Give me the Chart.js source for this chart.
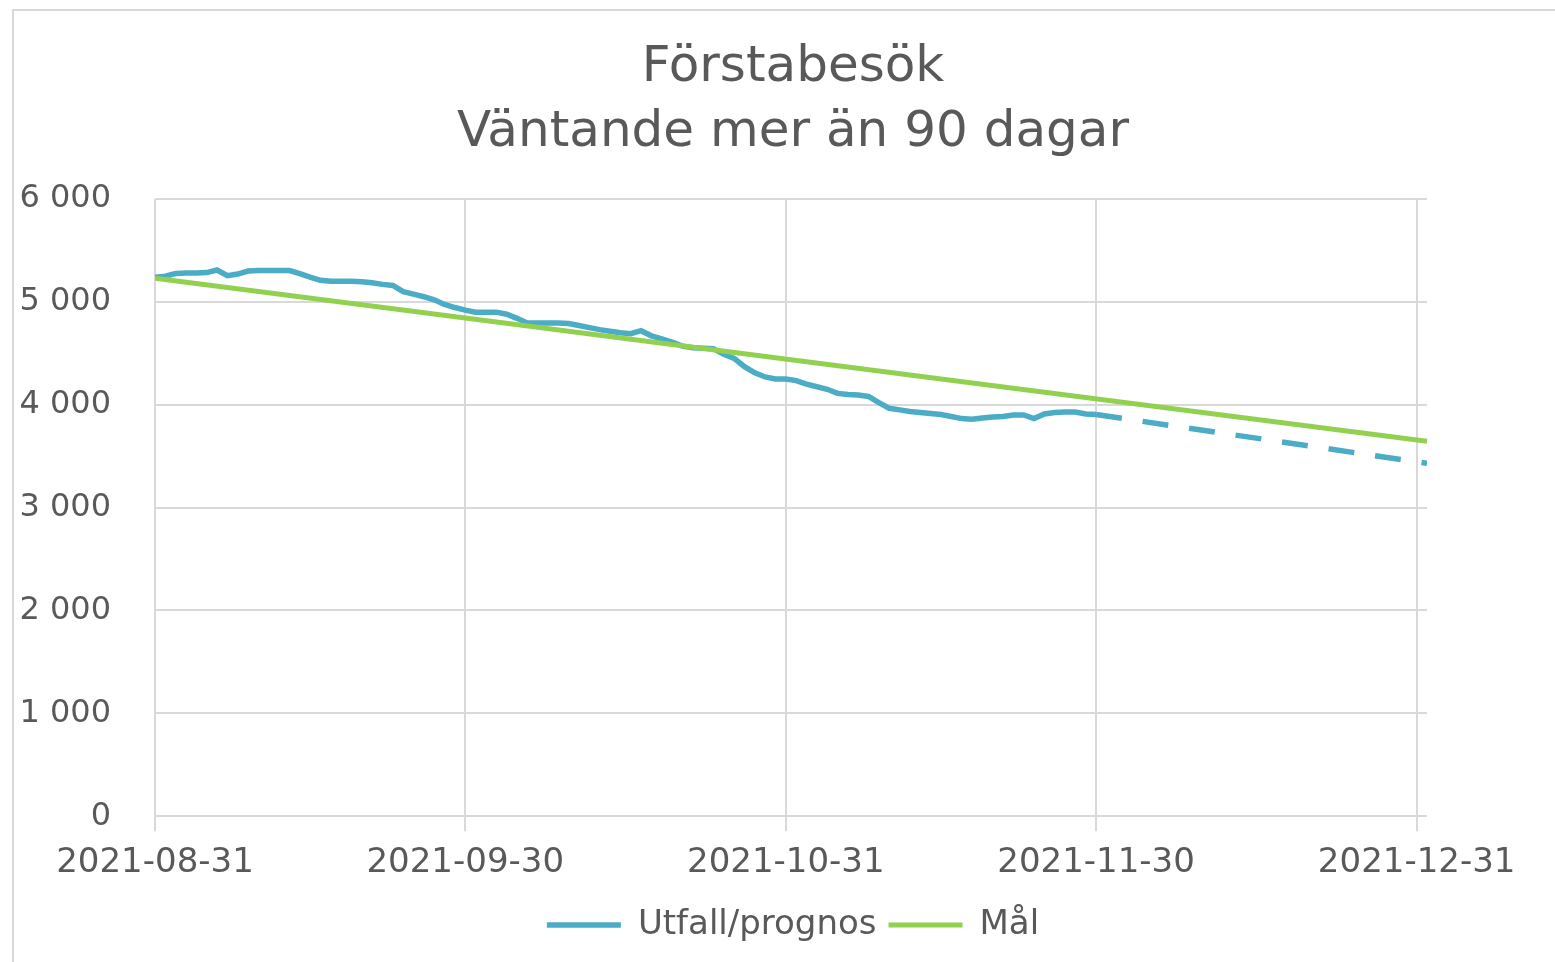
<!DOCTYPE html>
<html lang="sv">
<head>
<meta charset="utf-8">
<title>Förstabesök – Väntande mer än 90 dagar</title>
<script src="https://cdn.jsdelivr.net/npm/chart.js@4/dist/chart.umd.min.js"></script>
<style>
  html, body { margin: 0; padding: 0; background: #fff; overflow: hidden; width: 1555px; height: 962px; }
  .frame { position: absolute; left: 12px; top: 9px; width: 1620px; height: 1020px; border: 2px solid #d9d9d9; }
  #chart { position: absolute; left: 15px; top: 0; }
</style>
</head>
<body>
<div class="frame"></div>
<canvas id="chart" width="1556" height="962"></canvas>
<script>
// x = days since 2021-08-31
const tickDays   = [0, 30, 61, 91, 122];
const tickLabels = ['2021-08-31', '2021-09-30', '2021-10-31', '2021-11-30', '2021-12-31'];

// Utfall, one value per day from 2021-08-31 to 2021-11-30
const actualValues = [
  5240, 5250, 5275, 5280, 5280, 5285, 5310, 5255, 5270, 5300,
  5305, 5305, 5305, 5305, 5275, 5240, 5210, 5200, 5200, 5200,
  5195, 5185, 5170, 5160, 5100, 5075, 5050, 5020, 4975, 4945,
  4920, 4900, 4900, 4900, 4880, 4840, 4795, 4795, 4795, 4795,
  4790, 4770, 4750, 4730, 4715, 4700, 4690, 4720, 4670, 4640,
  4610, 4570, 4555, 4550, 4545, 4490, 4450, 4370, 4310, 4270,
  4250, 4250, 4235, 4200, 4175, 4150, 4110, 4100, 4095, 4080,
  4020, 3965, 3950, 3935, 3925, 3915, 3905, 3885, 3865, 3860,
  3870, 3880, 3885, 3900, 3900, 3865, 3910, 3925, 3930, 3930,
  3910, 3905,
];

// Prognos (dashed)
const forecastDays   = [91, 123];
const forecastValues = [3905, 3430];

// Mål
const goalDays   = [0, 123];
const goalValues = [5230, 3645];

const BLUE  = '#4bacc6';
const GREEN = '#92d050';
const GRID  = '#d9d9d9';
const TEXT  = '#595959';
const FONT  = "'DejaVu Sans', sans-serif";

const pts = (xs, ys) => ys.map((y, i) => ({ x: xs[i], y }));

new Chart(document.getElementById('chart'), {
  type: 'line',
  data: {
    datasets: [
      {
        label: 'Utfall/prognos',
        data: actualValues.map((y, i) => ({ x: i, y })),
        borderColor: BLUE, borderWidth: 5.5, order: 2,
      },
      {
        label: 'prognos',
        data: pts(forecastDays, forecastValues),
        borderColor: BLUE, borderWidth: 5.5, borderDash: [26, 21], order: 3,
      },
      {
        label: 'Mål',
        data: pts(goalDays, goalValues),
        borderColor: GREEN, borderWidth: 5, order: 1,
      },
    ],
  },
  options: {
    responsive: false,
    animation: false,
    devicePixelRatio: 1,
    elements: { point: { radius: 0 }, line: { tension: 0, fill: false, borderCapStyle: 'butt' } },
    layout: { padding: { top: 0, bottom: 10, left: 0, right: 0 } },
    scales: {
      x: {
        type: 'linear', min: 0, max: 123,
        afterBuildTicks: (s) => { s.ticks = tickDays.map((v) => ({ value: v })); },
        ticks: {
          autoSkip: false, maxRotation: 0, padding: 12, color: TEXT,
          font: { family: FONT, size: 34 },
          callback: (v) => tickLabels[tickDays.indexOf(v)],
        },
        grid: { color: GRID, lineWidth: 2, tickLength: 15 },
        border: { display: false },
      },
      y: {
        min: 0, max: 6000,
        afterFit: (s) => { s.width = 140; },
        ticks: {
          stepSize: 1000, padding: 44, color: TEXT,
          font: { family: FONT, size: 32 },
          callback: (v) => String(v).replace(/\B(?=(\d{3})+(?!\d))/g, ' '),
        },
        grid: { color: GRID, lineWidth: 2, drawTicks: false },
        border: { display: false },
      },
      yRight: {
        position: 'right', display: true,
        afterFit: (s) => { s.width = 144; },
        ticks: { display: false },
        grid: { display: false },
        border: { display: false },
      },
    },
    plugins: {
      title: {
        display: true,
        text: ['Förstabesök', 'Väntande mer än 90 dagar'],
        color: TEXT,
        font: { family: FONT, size: 50, weight: 'normal', lineHeight: 1.3 },
        padding: { top: 36, bottom: 33 },
      },
      legend: {
        position: 'bottom',
        labels: {
          usePointStyle: true, pointStyle: 'line', pointStyleWidth: 74,
          color: TEXT, padding: 12,
          font: { family: FONT, size: 34 },
          filter: (item) => item.text !== 'prognos',
          sort: (a, b) => a.datasetIndex - b.datasetIndex,
        },
      },
      tooltip: { enabled: false },
    },
  },
});
</script>
</body>
</html>
